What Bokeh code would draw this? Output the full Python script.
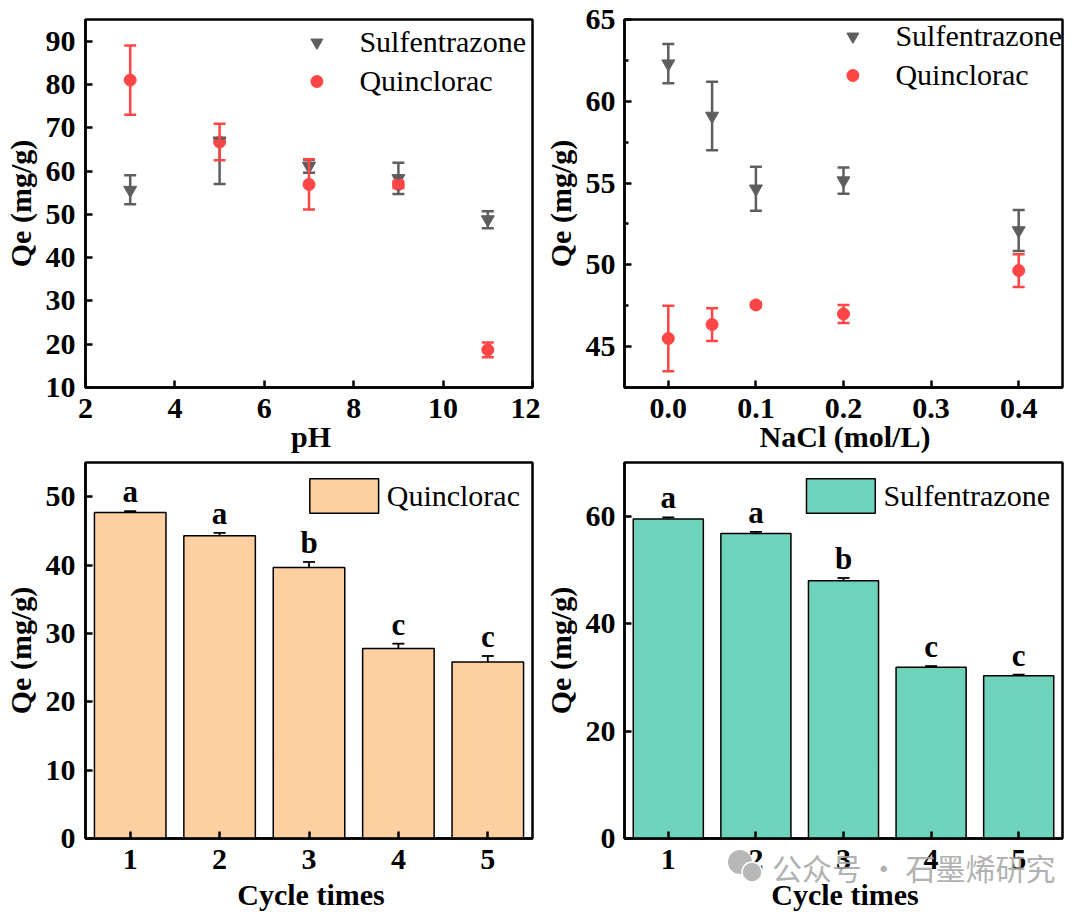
from bokeh.plotting import figure
from bokeh.models import (Range1d, FixedTicker, Whisker, TeeHead, ColumnDataSource,
                          Legend, LegendItem, GridBox, Div)
from bokeh.layouts import column, row
from bokeh.embed import file_html
from bokeh.resources import INLINE
from bokeh.core.properties import value

# ---------------- data ----------------
ph = [3, 5, 7, 9, 11]
ph_sulf = [55.6, 67.0, 61.1, 58.3, 48.8]
ph_sulf_lo = [52.3, 57.0, 59.6, 54.7, 46.8]
ph_sulf_hi = [59.0, 67.5, 62.5, 61.9, 50.7]
ph_quin = [81.0, 66.7, 56.9, 56.9, 18.7]
ph_quin_err = [8.0, 4.2, 5.8, 0.8, 1.7]

nacl = [0.0, 0.05, 0.1, 0.2, 0.4]
nacl_sulf = [62.3, 59.1, 54.65, 55.15, 52.1]
nacl_sulf_err = [1.2, 2.1, 1.35, 0.8, 1.25]
nacl_quin = [45.5, 46.35, 47.55, 47.0, 49.65]
nacl_quin_err = [2.0, 1.0, 0.15, 0.55, 1.0]

cycles = [1, 2, 3, 4, 5]
cyc_quin = [47.7, 44.3, 39.65, 27.8, 25.8]
cyc_quin_err = [0.2, 0.4, 0.8, 0.7, 0.9]
cyc_sulf = [59.5, 56.8, 48.0, 31.9, 30.3]
cyc_sulf_err = [0.3, 0.3, 0.5, 0.2, 0.2]
letters_quin = ["a", "a", "b", "c", "c"]
letters_sulf = ["a", "a", "b", "c", "c"]

x_titles = ["pH", "NaCl (mol/L)", "Cycle times", "Cycle times"]
y_title = "Qe (mg/g)"
watermark = "公众号 · 石墨烯研究"

# ---------------- style ----------------
SERIF = "Liberation Serif"
GRAY = "#5e5e5e"
RED = "#ff4545"
PEACH = "#fdcfa1"
TEAL = "#6fd3bc"
TICK_FS = "30px"
LABEL_FS = "30px"
LEGEND_FS = "30px"
ROW_H = 451
BOTTOM = 64


def base_fig(w, h, xr, yr, xticks, yticks, bl, bt, br, bb, ystand=10, ylabstand=6):
    p = figure(width=w, height=h, x_range=Range1d(*xr), y_range=Range1d(*yr),
               output_backend="svg", toolbar_location=None,
               min_border_left=bl, min_border_top=bt, min_border_right=br,
               min_border_bottom=bb)
    p.grid.visible = False
    p.background_fill_color = "white"
    p.border_fill_color = "white"
    p.outline_line_color = "black"
    p.outline_line_width = 2.5
    p.xaxis.ticker = FixedTicker(ticks=xticks)
    p.yaxis.ticker = FixedTicker(ticks=yticks)
    for ax in (p.xaxis[0], p.yaxis[0]):
        ax.axis_line_width = 2.5
        ax.axis_line_color = "black"
        ax.major_tick_in = 7
        ax.major_tick_out = 0
        ax.major_tick_line_width = 2.5
        ax.minor_tick_in = 0
        ax.minor_tick_out = 0
        ax.major_label_text_font = SERIF
        ax.major_label_text_font_style = "bold"
        ax.major_label_text_font_size = TICK_FS
        ax.major_label_text_color = "black"
        ax.axis_label_text_font = SERIF
        ax.axis_label_text_font_style = "bold"
        ax.axis_label_text_font_size = LABEL_FS
        ax.axis_label_text_color = "black"
    p.yaxis.axis_label = y_title
    p.xaxis.major_label_standoff = 11
    p.yaxis.major_label_standoff = ystand
    p.yaxis.axis_label_standoff = ylabstand
    return p


def style_legend(lg):
    lg.label_text_font = SERIF
    lg.label_text_font_size = LEGEND_FS
    lg.label_text_color = "black"
    lg.border_line_alpha = 0
    lg.background_fill_alpha = 0
    lg.location = "top_right"


def add_errors(p, src, col):
    w = Whisker(source=src, base="x", lower="lo", upper="hi",
                line_color=col, line_width=2.5,
                upper_head=TeeHead(size=12, line_color=col, line_width=2.5),
                lower_head=TeeHead(size=12, line_color=col, line_width=2.5))
    w.level = "glyph"
    p.add_layout(w)


# ---------- panel 1: pH ----------
p1 = base_fig(540, ROW_H, (2, 12), (10, 95), [2, 4, 6, 8, 10, 12],
              [10, 20, 30, 40, 50, 60, 70, 80, 90], 80, 5, 8, BOTTOM)
s1 = ColumnDataSource(dict(x=ph, y=ph_sulf, lo=ph_sulf_lo, hi=ph_sulf_hi))
q1 = ColumnDataSource(dict(x=ph, y=ph_quin,
                           lo=[v - e for v, e in zip(ph_quin, ph_quin_err)],
                           hi=[v + e for v, e in zip(ph_quin, ph_quin_err)]))
add_errors(p1, s1, GRAY)
add_errors(p1, q1, RED)
r1s = p1.scatter("x", "y", source=s1, marker="inverted_triangle", size=13,
                 color=GRAY)
r1q = p1.scatter("x", "y", source=q1, marker="circle", size=12, color=RED)
lg1 = Legend(items=[LegendItem(label="Sulfentrazone", renderers=[r1s]),
                    LegendItem(label="Quinclorac", renderers=[r1q])],
             glyph_width=30, glyph_height=32, label_height=32, label_standoff=28,
             spacing=5, padding=4, margin=2)
style_legend(lg1)
p1.add_layout(lg1)

# ---------- panel 2: NaCl ----------
p2 = base_fig(524, ROW_H, (-0.05, 0.45), (42.5, 65), [0.0, 0.1, 0.2, 0.3, 0.4],
              [45, 50, 55, 60, 65], 78, 19, 2, BOTTOM, ystand=9, ylabstand=6)
p2.yaxis.ticker = FixedTicker(ticks=[45, 50, 55, 60, 65],
                              minor_ticks=[42.5, 47.5, 52.5, 57.5, 62.5])
p2.yaxis.minor_tick_in = 4
p2.yaxis.minor_tick_line_width = 2.5
p2.xaxis.major_label_overrides = {0: "0.0", 0.1: "0.1", 0.2: "0.2", 0.3: "0.3", 0.4: "0.4"}
s2 = ColumnDataSource(dict(x=nacl, y=nacl_sulf,
                           lo=[v - e for v, e in zip(nacl_sulf, nacl_sulf_err)],
                           hi=[v + e for v, e in zip(nacl_sulf, nacl_sulf_err)]))
q2 = ColumnDataSource(dict(x=nacl, y=nacl_quin,
                           lo=[v - e for v, e in zip(nacl_quin, nacl_quin_err)],
                           hi=[v + e for v, e in zip(nacl_quin, nacl_quin_err)]))
add_errors(p2, s2, GRAY)
add_errors(p2, q2, RED)
r2s = p2.scatter("x", "y", source=s2, marker="inverted_triangle", size=13,
                 color=GRAY)
r2q = p2.scatter("x", "y", source=q2, marker="circle", size=12, color=RED)
lg2 = Legend(items=[LegendItem(label="Sulfentrazone", renderers=[r2s]),
                    LegendItem(label="Quinclorac", renderers=[r2q])],
             glyph_width=30, glyph_height=32, label_height=32, label_standoff=28,
             spacing=5, padding=0, margin=0)
style_legend(lg2)
p2.add_layout(lg2)


# ---------- bar panels ----------
def bar_panel(w, vals, errs, letters, ymax, yticks, color, name, bl, br, ystand):
    p = base_fig(w, ROW_H, (0.5, 5.5), (0, ymax), cycles, yticks,
                 bl, 11, br, BOTTOM, ystand=ystand, ylabstand=6)
    src = ColumnDataSource(dict(x=cycles, y=vals,
                                lo=[v - e for v, e in zip(vals, errs)],
                                hi=[v + e for v, e in zip(vals, errs)],
                                lab=letters))
    r = p.vbar(x="x", top="y", width=0.8, source=src, fill_color=color,
               line_color="black", line_width=1.5)
    wk = Whisker(source=src, base="x", lower="lo", upper="hi",
                 line_color="black", line_width=1.8,
                 upper_head=TeeHead(size=12, line_color="black", line_width=1.8),
                 lower_head=TeeHead(size=12, line_color="black", line_width=1.8))
    p.add_layout(wk)
    p.text(x="x", y="hi", text="lab", source=src, text_align="center",
           text_baseline="bottom", y_offset=-2,
           text_font=value(SERIF), text_font_style="bold",
           text_font_size="31px", text_color="black")
    lg = Legend(items=[LegendItem(label=name, renderers=[r])],
                glyph_width=86, glyph_height=43, label_height=43,
                label_standoff=0, padding=8, margin=4)
    style_legend(lg)
    p.add_layout(lg)
    return p


p3 = bar_panel(540, cyc_quin, cyc_quin_err, letters_quin, 55,
               [0, 10, 20, 30, 40, 50], PEACH, "Quinclorac", 80, 8, 10)
p4 = bar_panel(524, cyc_sulf, cyc_sulf_err, letters_sulf, 70,
               [0, 20, 40, 60], TEAL, "Sulfentrazone", 78, 2, 9)

main = column(row(p1, p2), row(p3, p4))

# ---------- overlay: x-axis titles and watermark (same grid cell, on top) ----------
# (left, width) of each panel's frame, top and height of each title's line box
title_boxes = [(80, 452, 420, 24), (618, 444, 420, 24), (80, 452, 880, 20), (618, 444, 880, 20)]
parts = ['<div style="position:relative;width:1064px;height:902px;pointer-events:none;">']
for t, (lx, wd, ty, lh) in zip(x_titles, title_boxes):
    parts.append(
        f'<div style="position:absolute;left:{lx}px;width:{wd}px;top:{ty}px;'
        f'height:{lh}px;line-height:{lh}px;text-align:center;white-space:nowrap;'
        f'font-family:\'{SERIF}\';font-weight:bold;font-size:30px;color:black;">{t}</div>')
parts.append(
    '<svg style="position:absolute;left:721px;top:843px;" width="40" height="38">'
    '<circle cx="14" cy="14" r="12" fill="#b8b8b8"/>'
    '<circle cx="26" cy="24" r="10" fill="#b8b8b8" stroke="white" stroke-width="1.5"/>'
    '</svg>')
parts.append(
    '<span style="position:absolute;left:767px;top:848px;height:28px;font-family:\'Noto Sans CJK SC\';'
    'font-size:30px;line-height:28px;color:#a4a4a4;opacity:0.85;white-space:nowrap;">'
    + watermark + '</span>')
parts.append('</div>')
overlay = Div(text="".join(parts), width=1064, height=902)

grid = GridBox(children=[(main, 0, 0), (overlay, 0, 0)], spacing=0)
open("out.html", "w").write(file_html(grid, INLINE))
